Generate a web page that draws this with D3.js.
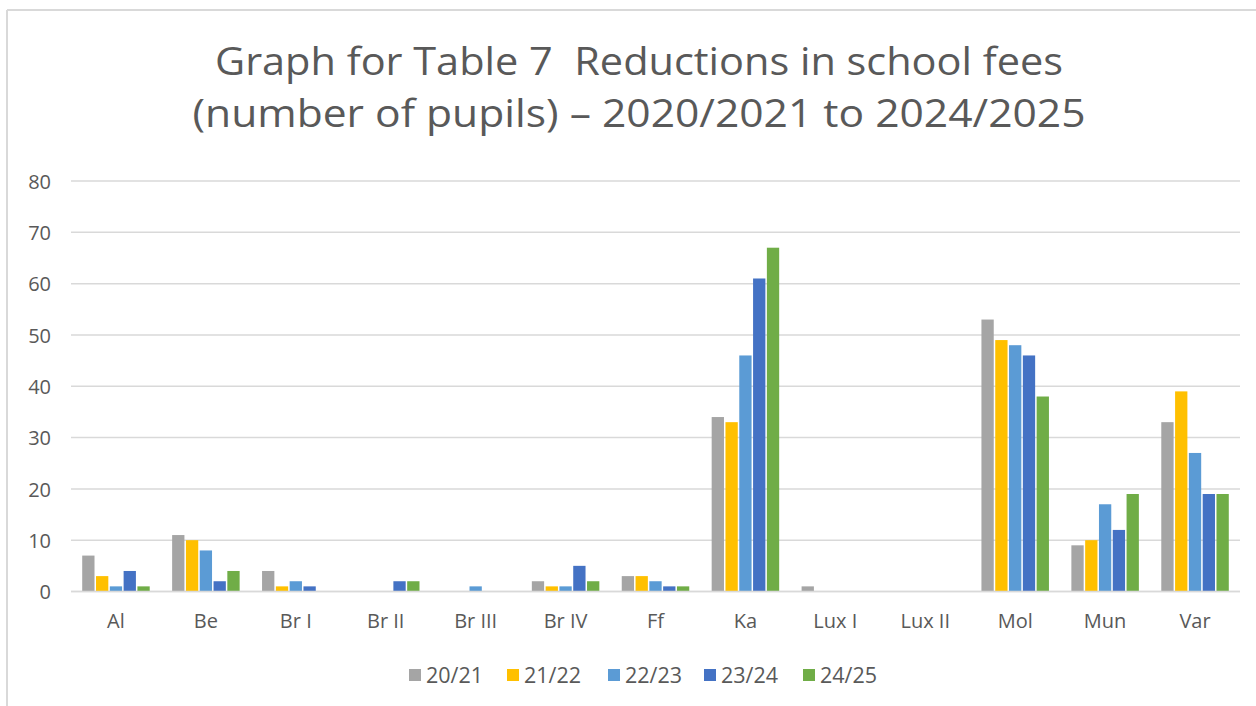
<!DOCTYPE html>
<html>
<head>
<meta charset="utf-8">
<script src="https://cdn.jsdelivr.net/npm/d3@7"></script>
<style>
  html, body { margin: 0; padding: 0; background: #fff; }
  svg { display: block; }
  text { font-family: "Open Sans", sans-serif; fill: #595959; }
  .title { white-space: pre; }
</style>
</head>
<body>
<svg id="chart" width="1256" height="706"></svg>
<script>
const categories = ["Al", "Be", "Br I", "Br II", "Br III", "Br IV", "Ff", "Ka", "Lux I", "Lux II", "Mol", "Mun", "Var"];
const seriesNames = ["20/21", "21/22", "22/23", "23/24", "24/25"];
const s2021 = [7, 11, 4, 0, 0, 2, 3, 34, 1, 0, 53, 9, 33];
const s2122 = [3, 10, 1, 0, 0, 1, 3, 33, 0, 0, 49, 10, 39];
const s2223 = [1, 8, 2, 0, 1, 1, 2, 46, 0, 0, 48, 17, 27];
const s2324 = [4, 2, 1, 2, 0, 5, 1, 61, 0, 0, 46, 12, 19];
const s2425 = [1, 4, 0, 2, 0, 2, 1, 67, 0, 0, 38, 19, 19];
const seriesValues = [s2021, s2122, s2223, s2324, s2425];
const seriesColors = ["#A5A5A5", "#FFC000", "#5B9BD5", "#4472C4", "#70AD47"];
const yTicks = [0, 10, 20, 30, 40, 50, 60, 70, 80];
const titleLines = ["Graph for Table 7  Reductions in school fees", "(number of pupils) \u2013 2020/2021 to 2024/2025"];

const svg = d3.select("#chart");

// outer frame (partial, as in the reference)
svg.append("line").attr("x1", 7).attr("y1", 10).attr("x2", 1256).attr("y2", 10)
  .attr("stroke", "#d9d9d9").attr("stroke-width", 2);
svg.append("line").attr("x1", 7).attr("y1", 10).attr("x2", 7).attr("y2", 706)
  .attr("stroke", "#d9d9d9").attr("stroke-width", 2);

// title
const titleY = [75, 127];
const titleW = [848, 893];
titleLines.forEach((t, i) => {
  svg.append("text")
    .attr("class", "title")
    .attr("xml:space", "preserve")
    .attr("x", 639).attr("y", titleY[i])
    .attr("text-anchor", "middle")
    .attr("font-size", 39)
    .attr("textLength", titleW[i])
    .attr("lengthAdjust", "spacingAndGlyphs")
    .text(t);
});

const x0 = d3.scaleBand().domain(categories).range([71, 1240]).paddingInner(0).paddingOuter(0);
const groupW = 69;
const x1 = d3.scaleBand().domain(seriesNames).range([0, groupW]);
const y = d3.scaleLinear().domain([0, 80]).range([591.5, 181]);

// gridlines
const grid = svg.append("g");
grid.selectAll("line").data(yTicks).join("line")
  .attr("x1", 71).attr("x2", 1240)
  .attr("y1", d => y(d)).attr("y2", d => y(d))
  .attr("stroke", "#d9d9d9").attr("stroke-width", 1.5);

// y axis labels
const yAxis = d3.axisLeft(y).tickValues(yTicks).tickSize(0).tickPadding(0);
const gy = svg.append("g").attr("transform", "translate(51,0)").call(yAxis);
gy.select(".domain").remove();
gy.selectAll("text").attr("font-size", 20).attr("font-family", "Open Sans, sans-serif").attr("fill", "#595959").attr("dy", "0.36em");

// bars
const barData = [];
categories.forEach((c, ci) => {
  seriesNames.forEach((s, si) => {
    barData.push({ cat: c, ser: s, v: seriesValues[si][ci], color: seriesColors[si] });
  });
});
svg.append("g").selectAll("rect").data(barData.filter(d => d.v > 0)).join("rect")
  .attr("x", d => x0(d.cat) + (x0.bandwidth() - groupW) / 2 + x1(d.ser) + 0.75)
  .attr("width", x1.bandwidth() - 1.5)
  .attr("y", d => y(d.v))
  .attr("height", d => y(0) - y(d.v))
  .attr("fill", d => d.color);

// baseline axis
svg.append("line").attr("x1", 71).attr("x2", 1240).attr("y1", y(0)).attr("y2", y(0))
  .attr("stroke", "#d9d9d9").attr("stroke-width", 1.5);

// x axis labels
const xAxis = d3.axisBottom(x0).tickSize(0).tickPadding(0);
const gx = svg.append("g").attr("transform", "translate(0,628)").call(xAxis);
gx.select(".domain").remove();
gx.selectAll("text").attr("font-size", 20).attr("font-family", "Open Sans, sans-serif").attr("fill", "#595959").attr("dy", 0);

// legend
const legendX = [409, 507, 608, 704, 803];
const lg = svg.append("g");
seriesNames.forEach((s, i) => {
  const g = lg.append("g").attr("transform", `translate(${legendX[i]},0)`);
  g.append("rect").attr("x", 0).attr("y", 669).attr("width", 12).attr("height", 12).attr("fill", seriesColors[i]);
  g.append("text").attr("x", 17).attr("y", 683).attr("font-size", 21.5).text(s);
});
</script>
</body>
</html>
